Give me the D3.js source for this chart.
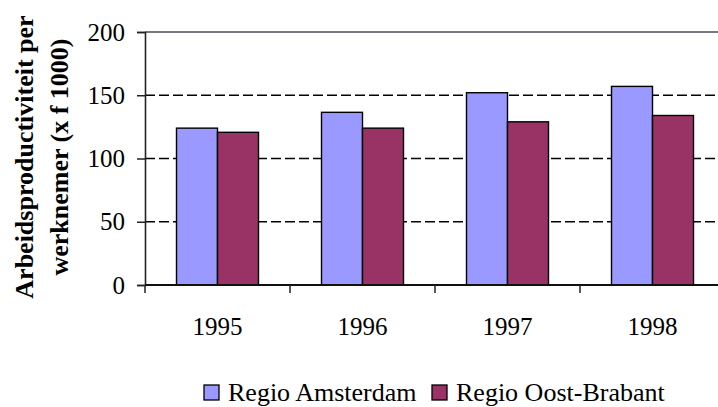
<!DOCTYPE html>
<html><head><meta charset="utf-8">
<script src="https://cdn.jsdelivr.net/npm/d3@7"></script>
<style>body{margin:0;background:#fff}svg{display:block}text{font-family:"Liberation Serif","Times New Roman",serif;fill:#000}</style>
</head><body>
<svg id="chart" width="718" height="407"></svg>
<script>
const years = ["1995", "1996", "1997", "1998"];
const seriesNames = ["Regio Amsterdam", "Regio Oost-Brabant"];
const amsterdam = [124, 136.5, 152, 157];
const oostBrabant = [120.7, 124, 129, 134];
const seriesColors = ["#9999FF", "#993366"];
const yTicks = [0, 50, 100, 150, 200];
const titleLines = ["Arbeidsproductiviteit per", "werknemer (x f 1000)"];

const values = [amsterdam, oostBrabant];
const svg = d3.select("#chart");
const mLeft = 145, mRight = 725, mTop = 32, mBottom = 285;

const x0 = d3.scaleBand().domain(years).range([mLeft, mRight]).padding(0);
const x1 = d3.scaleBand().domain(seriesNames).range([31.5, x0.bandwidth() - 31.5]).padding(0);
const y = d3.scaleLinear().domain([0, 200]).range([mBottom, mTop]);

// gridlines
svg.append("g").selectAll("line").data(yTicks.filter(t => t > 0 && t < 200)).join("line")
  .attr("x1", mLeft).attr("x2", 718).attr("y1", d => y(d)).attr("y2", d => y(d))
  .attr("stroke", "#000").attr("stroke-width", 1.3).attr("stroke-dasharray", "10,4");
svg.append("line").attr("x1", mLeft).attr("x2", 718).attr("y1", y(200)).attr("y2", y(200))
  .attr("stroke", "#77777f").attr("stroke-width", 2);

// bars
const groups = svg.append("g").selectAll("g").data(years).join("g")
  .attr("transform", d => `translate(${x0(d)},0)`);
groups.selectAll("rect").data((d, i) => seriesNames.map((s, j) => ({s, v: values[j][i], j}))).join("rect")
  .attr("x", d => x1(d.s)).attr("width", x1.bandwidth())
  .attr("y", d => y(d.v)).attr("height", d => y(0) - y(d.v))
  .attr("fill", d => seriesColors[d.j]).attr("stroke", "#000").attr("stroke-width", 1.4);

// y axis
const yAxis = svg.append("g").attr("transform", `translate(${mLeft},0)`)
  .attr("font-family", "Liberation Serif")
  .call(d3.axisLeft(y).tickValues(yTicks).tickSize(8).tickPadding(12));
yAxis.select(".domain").attr("stroke", "#222").attr("stroke-width", 1.6);
yAxis.selectAll(".tick line").attr("stroke", "#222").attr("stroke-width", 1.5);
yAxis.selectAll("text").style("font-size", "25px");

// x axis
const xAxis = svg.append("g").attr("transform", `translate(0,${mBottom})`)
  .call(d3.axisBottom(x0).tickSize(0).tickPadding(0));
xAxis.select(".domain").remove();
svg.append("line").attr("x1", mLeft).attr("x2", 718).attr("y1", mBottom).attr("y2", mBottom)
  .attr("stroke", "#111").attr("stroke-width", 2);
svg.append("g").selectAll("line").data(years).join("line")
  .attr("x1", d => x0(d)).attr("x2", d => x0(d)).attr("y1", mBottom).attr("y2", mBottom + 8)
  .attr("stroke", "#222").attr("stroke-width", 1.5);
xAxis.selectAll("text").attr("y", 50).attr("dy", 0).style("font-size", "25px");

// title
svg.append("g").selectAll("text").data(titleLines).join("text")
  .attr("transform", (d, i) => `translate(${[33, 68][i]},157) rotate(-90)`)
  .attr("text-anchor", "middle").style("font-size", "26px").style("font-weight", "bold")
  .text(d => d);

// legend
const legendX = [204, 432];
const lg = svg.append("g").selectAll("g").data(seriesNames).join("g")
  .attr("transform", (d, i) => `translate(${legendX[i]},385)`);
lg.append("rect").attr("width", 15).attr("height", 15)
  .attr("fill", (d, i) => seriesColors[i]).attr("stroke", "#000").attr("stroke-width", 1.3);
lg.append("text").attr("x", 24).attr("y", 15.5).style("font-size", "26px").text(d => d);
</script>
</body></html>
